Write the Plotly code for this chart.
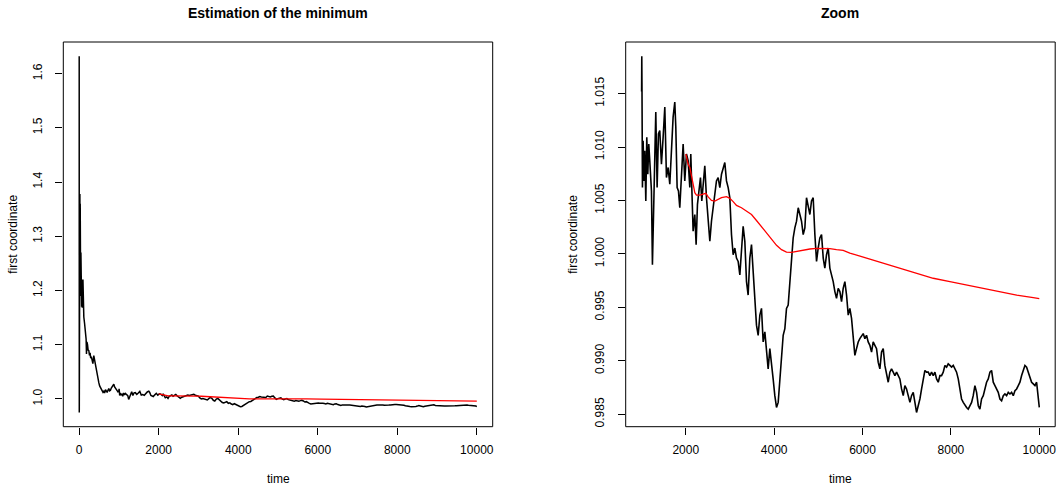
import plotly.graph_objects as go

# ---------------- data ----------------
time_early = [1, 3, 6, 10, 14, 18, 22, 26, 30, 34, 38, 44, 50, 56, 62, 70, 78, 86, 95, 105,
              117, 135, 159, 175, 184, 195, 210, 225, 243, 260, 275, 290, 305, 327, 345, 368,
              390, 410, 430, 452, 475, 494, 515, 536, 557, 578, 600, 620, 640, 662, 684, 704,
              725, 745, 766, 787, 808, 829, 850, 871, 892, 913, 934, 955, 975]
first_early = [1.632, 0.975, 1.26, 1.33, 1.22, 1.378, 1.25, 1.36, 1.21, 1.30, 1.19, 1.27, 1.20,
               1.24, 1.17, 1.22, 1.168, 1.21, 1.22, 1.17, 1.151, 1.14, 1.126, 1.11, 1.083, 1.105,
               1.10, 1.09, 1.089, 1.08, 1.085, 1.075, 1.078, 1.071, 1.065, 1.08, 1.07, 1.063,
               1.052, 1.045, 1.035, 1.030, 1.024, 1.021, 1.016, 1.015, 1.012, 1.014, 1.011, 1.017,
               1.013, 1.012, 1.016, 1.019, 1.015, 1.016, 1.020, 1.022, 1.026, 1.027, 1.022, 1.019,
               1.016, 1.016, 1.013]

time_zoom = [1000, 1004, 1008, 1019, 1034, 1057, 1072, 1095, 1117, 1140, 1162, 1185, 1208, 1223,
             1245, 1268, 1298, 1321, 1351, 1381, 1411, 1449, 1487, 1525, 1562, 1600, 1638, 1676,
             1713, 1751, 1774, 1804, 1834, 1864, 1902, 1940, 1977, 2015, 2053, 2091, 2113, 2136,
             2166, 2204, 2234, 2264, 2302, 2332, 2362, 2393, 2430, 2468, 2506, 2544, 2581, 2619,
             2657, 2694, 2732, 2770, 2808, 2845, 2883, 2921, 2959, 2996, 3034, 3072, 3110, 3147,
             3185, 3223, 3260, 3298, 3336, 3374, 3411, 3449, 3487, 3525, 3562, 3600, 3638, 3676,
             3713, 3751, 3789, 3827, 3864, 3902, 3940, 3977, 4015, 4053, 4091, 4128, 4166, 4204,
             4242, 4279, 4317, 4355, 4393, 4430, 4468, 4506, 4544, 4581, 4619, 4657, 4695, 4732,
             4770, 4808, 4845, 4883, 4921, 4959, 4996, 5034, 5072, 5110, 5147, 5185, 5223, 5260,
             5298, 5336, 5374, 5411, 5449, 5487, 5525, 5562, 5600, 5638, 5676, 5713, 5751, 5789,
             5826, 5864, 5902, 5939, 5977, 6015, 6053, 6090, 6128, 6166, 6204, 6241, 6279, 6317,
             6354, 6392, 6430, 6468, 6505, 6543, 6581, 6619, 6656, 6694, 6732, 6770, 6807, 6845,
             6883, 6921, 6958, 6996, 7034, 7072, 7109, 7147, 7185, 7222, 7260, 7298, 7336, 7373,
             7411, 7449, 7487, 7524, 7562, 7600, 7638, 7675, 7713, 7751, 7788, 7826, 7864, 7902,
             7939, 7977, 8015, 8053, 8090, 8128, 8166, 8204, 8241, 8279, 8317, 8355, 8392, 8430,
             8468, 8505, 8543, 8581, 8619, 8656, 8694, 8732, 8770, 8807, 8845, 8883, 8920, 8958,
             8996, 9034, 9071, 9109, 9147, 9185, 9222, 9260, 9298, 9336, 9373, 9411, 9449, 9487,
             9524, 9562, 9600, 9638, 9675, 9713, 9751, 9788, 9826, 9864, 9902, 9939, 9977, 10000]
first_zoom = [1.0152, 1.0185, 1.0160, 1.00621, 1.01060, 1.00683, 1.00966, 1.00495, 1.01092,
              1.00746, 1.01029, 1.00872, 1.00683, 1.00589, 0.99898, 1.00432, 1.00997, 1.01327,
              1.00621, 1.01123, 1.01155, 1.00840, 1.01092, 1.01374, 1.00715, 1.00809, 1.00652,
              1.01060, 1.01280, 1.01421, 1.01186, 1.00621, 1.00589, 1.00432, 1.00746, 1.01029,
              1.00683, 1.00935, 1.00872, 1.00621, 1.00935, 1.00652, 1.00212, 1.00369, 1.00087,
              1.00464, 1.00589, 1.00715, 1.00495, 1.00652, 1.00825, 1.00526, 1.00306, 1.00118,
              1.00306, 1.00432, 1.00526, 1.00683, 1.00715, 1.00621, 1.00746, 1.00809, 1.00856,
              1.00683, 1.00621, 1.00526, 1.00181, 0.99992, 1.00055, 0.99961, 0.99930, 0.99804,
              1.00055, 1.00259, 1.00118, 0.99741, 0.99615, 0.99961, 1.00087, 0.99804, 0.99521,
              0.99333, 0.99238, 0.99427, 0.99490, 0.99176, 0.99270, 0.99050, 0.98924, 0.99113,
              0.98987, 0.98830, 0.98673, 0.98563, 0.98610, 0.98799, 0.98987, 0.99238, 0.99301,
              0.99490, 0.99521, 0.99741, 0.99961, 1.00149, 1.00244, 1.00306, 1.00432, 1.00369,
              1.00306, 1.00181, 1.00244, 1.00526, 1.00432, 1.00369, 1.00495, 1.00526, 1.00181,
              0.99930, 1.00055, 1.00149, 1.00181, 0.99961, 0.99867, 0.99992, 1.00055, 0.99867,
              0.99804, 0.99741, 0.99647, 0.99584, 0.99678, 0.99647, 0.99553, 0.99678, 0.99741,
              0.99615, 0.99427, 0.99490, 0.99396, 0.99176, 0.99050, 0.99113, 0.99176, 0.99207,
              0.99238, 0.99254, 0.99207, 0.99238, 0.99176, 0.99144, 0.99081, 0.99176, 0.99144,
              0.99113, 0.98987, 0.98924, 0.99081, 0.99113, 0.98956, 0.98861, 0.98799, 0.98893,
              0.98924, 0.98893, 0.98861, 0.98893, 0.98861, 0.98830, 0.98736, 0.98673, 0.98767,
              0.98736, 0.98673, 0.98610, 0.98673, 0.98704, 0.98610, 0.98516, 0.98579, 0.98642,
              0.98736, 0.98830, 0.98909, 0.98893, 0.98893, 0.98861, 0.98893, 0.98861, 0.98893,
              0.98830, 0.98799, 0.98861, 0.98861, 0.98893, 0.98956, 0.98940, 0.98971, 0.98956,
              0.98940, 0.98956, 0.98924, 0.98893, 0.98830, 0.98736, 0.98642, 0.98610, 0.98579,
              0.98563, 0.98547, 0.98579, 0.98610, 0.98673, 0.98767, 0.98704, 0.98579, 0.98547,
              0.98642, 0.98673, 0.98736, 0.98799, 0.98830, 0.98893, 0.98909, 0.98799, 0.98767,
              0.98736, 0.98704, 0.98642, 0.98626, 0.98673, 0.98689, 0.98673, 0.98704, 0.98689,
              0.98704, 0.98673, 0.98720, 0.98736, 0.98767, 0.98799, 0.98861, 0.98909, 0.98956,
              0.98940, 0.98893, 0.98830, 0.98799, 0.98783, 0.98767, 0.98799, 0.98673, 0.98563]

time_red = [2000, 2053, 2091, 2128, 2166, 2204, 2242, 2317, 2393, 2453, 2506, 2581, 2657, 2732,
            2808, 2921, 2996, 3072, 3147, 3260, 3374, 3487, 3600, 3713, 3827, 3940, 4053, 4166,
            4279, 4393, 4506, 4657, 4808, 4959, 5110, 5260, 5411, 5562, 5713, 6090, 6468, 6845,
            7222, 7600, 7977, 8355, 8732, 9109, 9487, 9864, 10000]
estimate_red = [1.00935, 1.00840, 1.00809, 1.00746, 1.00652, 1.00573, 1.00551, 1.00551, 1.00558,
                1.00567, 1.00533, 1.00501, 1.00495, 1.00507, 1.00526, 1.00536, 1.00520, 1.00489,
                1.00454, 1.00432, 1.00401, 1.00369, 1.00313, 1.00256, 1.00197, 1.00137, 1.00080,
                1.00040, 1.00017, 1.00014, 1.00024, 1.00033, 1.00046, 1.00052, 1.00052, 1.00049,
                1.00040, 1.00033, 1.00008, 0.99961, 0.99914, 0.99867, 0.99813, 0.99772, 0.99741,
                0.99710, 0.99675, 0.99641, 0.99615, 0.99590, 0.99581]

titles = ["Estimation of the minimum", "Zoom"]
x_label = "time"
y_label = "first coordinate"
left_xticks = [0, 2000, 4000, 6000, 8000, 10000]
right_xticks = [2000, 4000, 6000, 8000, 10000]
left_yticks = [1.0, 1.1, 1.2, 1.3, 1.4, 1.5, 1.6]
right_yticks = [0.985, 0.990, 0.995, 1.000, 1.005, 1.010, 1.015]

# ---------------- layout helpers ----------------
W, H = 1058, 490
FONT = "Liberation Sans, Arial, Helvetica, sans-serif"


def r_range(vals):
    lo, hi = min(vals), max(vals)
    pad = 0.04 * (hi - lo)
    return [lo - pad, hi + pad]


time_all = time_early + time_zoom
first_all = first_early + first_zoom

# panel boxes in pixels (left, right, top, bottom)
boxes = [(63.3, 492.7, 42.0, 426.7), (625.7, 1055.2, 42.0, 426.7)]


def dom_x(b):
    return [b[0] / W, b[1] / W]


def dom_y(b):
    return [(H - b[3]) / H, (H - b[2]) / H]


fig = go.Figure()
fig.add_trace(go.Scatter(x=time_all, y=first_all, mode="lines",
                         line=dict(color="black", width=1.5), xaxis="x", yaxis="y"))
fig.add_trace(go.Scatter(x=time_red, y=estimate_red, mode="lines",
                         line=dict(color="#ff0000", width=1.3), xaxis="x", yaxis="y"))
fig.add_trace(go.Scatter(x=time_zoom, y=first_zoom, mode="lines",
                         line=dict(color="black", width=1.6), xaxis="x2", yaxis="y2"))
fig.add_trace(go.Scatter(x=time_red, y=estimate_red, mode="lines",
                         line=dict(color="#ff0000", width=1.3), xaxis="x2", yaxis="y2"))

axis_common = dict(showgrid=False, zeroline=False, showline=False, ticks="outside",
                   ticklen=7, tickwidth=1, tickcolor="black",
                   tickfont=dict(family=FONT, size=12, color="black"))

fig.update_layout(
    width=W, height=H, margin=dict(l=0, r=0, t=0, b=0),
    paper_bgcolor="white", plot_bgcolor="white", showlegend=False,
    xaxis=dict(domain=dom_x(boxes[0]), range=r_range(time_all), anchor="y",
               tickvals=left_xticks, tickformat="d", ticklabelstandoff=5, **axis_common),
    yaxis=dict(domain=dom_y(boxes[0]), range=r_range(first_all), anchor="x",
               tickvals=left_yticks, tickformat=".1f", tickangle=-90,
               ticklabelstandoff=9, **axis_common),
    xaxis2=dict(domain=dom_x(boxes[1]), range=r_range(time_zoom), anchor="y2",
                tickvals=right_xticks, tickformat="d", ticklabelstandoff=5, **axis_common),
    yaxis2=dict(domain=dom_y(boxes[1]), range=r_range(first_zoom), anchor="x2",
                tickvals=right_yticks, tickformat=".3f", tickangle=-90,
                ticklabelstandoff=9, **axis_common),
)

shapes = []
annotations = []
ylab_x = [13.3, 573.5]
for i, b in enumerate(boxes):
    shapes.append(dict(type="rect", xref="paper", yref="paper",
                       x0=b[0] / W, x1=b[1] / W, y0=(H - b[3]) / H, y1=(H - b[2]) / H,
                       line=dict(color="black", width=1), fillcolor="rgba(0,0,0,0)"))
    cx = (b[0] + b[1]) / 2 / W
    annotations.append(dict(text="<b>%s</b>" % titles[i], x=cx, y=(H - 13) / H,
                            xref="paper", yref="paper", showarrow=False,
                            xanchor="center", yanchor="middle",
                            font=dict(family=FONT, size=14, color="black")))
    annotations.append(dict(text=x_label, x=cx, y=(H - 479) / H, xref="paper", yref="paper",
                            showarrow=False, xanchor="center", yanchor="middle",
                            font=dict(family=FONT, size=12, color="black")))
    annotations.append(dict(text=y_label, x=ylab_x[i] / W, y=(H - (b[2] + b[3]) / 2) / H,
                            xref="paper", yref="paper", showarrow=False, textangle=-90,
                            xanchor="center", yanchor="middle",
                            font=dict(family=FONT, size=12, color="black")))

fig.update_layout(shapes=shapes, annotations=annotations)
fig.write_html("out.html",
               config={"displayModeBar": False, "staticPlot": True},
               post_script="document.body.style.margin='0px';"
                           "document.body.style.overflow='hidden';")
